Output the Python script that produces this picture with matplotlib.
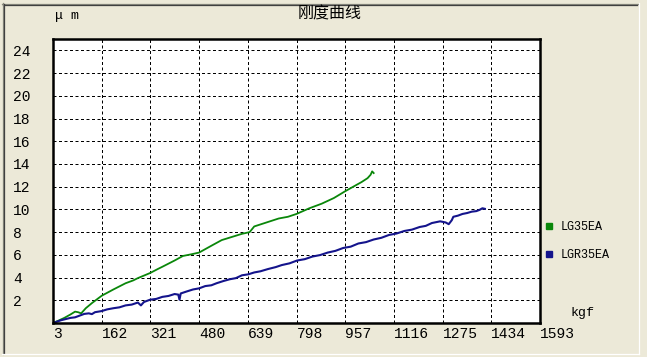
import matplotlib
matplotlib.use("Agg")
import matplotlib.pyplot as plt
from matplotlib.lines import Line2D
import matplotlib.transforms as mtransforms

# ---- data ----
title = "刚度曲线"
y_unit = "μ m"
x_unit = "kgf"
x_ticks = [3, 162, 321, 480, 639, 798, 957, 1116, 1275, 1434, 1593]
y_ticks = [2, 4, 6, 8, 10, 12, 14, 16, 18, 20, 22, 24]

series_names = ["LG35EA", "LGR35EA"]

lg_x = [3, 20, 40, 60, 75, 85, 95, 110, 130, 162, 200, 240, 265, 280, 320, 345,
        360, 400, 427, 455, 480, 520, 554, 590, 620, 645, 660, 700, 740, 770,
        798, 840, 880, 920, 957, 990, 1010, 1030, 1040, 1045, 1050]
lg_y = [0.0, 0.2, 0.45, 0.75, 1.0, 0.95, 0.85, 1.3, 1.75, 2.4, 2.95, 3.5, 3.75,
        3.95, 4.4, 4.75, 4.95, 5.5, 5.9, 6.05, 6.2, 6.8, 7.3, 7.6, 7.85, 8.0,
        8.5, 8.85, 9.2, 9.35, 9.6, 10.1, 10.5, 11.0, 11.6, 12.1, 12.4, 12.75,
        13.05, 13.35, 13.2]

lgr_x = [3, 30, 60, 75, 90, 105, 120, 130, 140, 162, 180, 200, 220, 240, 260,
         280, 290, 300, 320, 340, 360, 380, 400, 412, 416, 420, 440, 460, 480,
         500, 520, 537, 560, 580, 600, 620, 640, 660, 680, 705, 730, 750, 775,
         800, 825, 850, 875, 900, 925, 950, 975, 1000, 1025, 1050, 1075, 1100,
         1125, 1150, 1175, 1200, 1220, 1240, 1267, 1285, 1295, 1305, 1310, 1325,
         1340, 1355, 1370, 1385, 1395, 1405, 1413]
lgr_y = [0.0, 0.25, 0.45, 0.5, 0.65, 0.8, 0.85, 0.78, 0.95, 1.05, 1.2, 1.3,
         1.38, 1.55, 1.62, 1.8, 1.55, 1.85, 2.05, 2.12, 2.3, 2.38, 2.55, 2.5,
         2.05, 2.6, 2.78, 2.95, 3.05, 3.25, 3.32, 3.5, 3.7, 3.85, 3.95, 4.2,
         4.28, 4.45, 4.55, 4.75, 4.92, 5.1, 5.25, 5.5, 5.62, 5.85, 5.98, 6.2,
         6.35, 6.6, 6.72, 7.0, 7.12, 7.35, 7.5, 7.75, 7.88, 8.1, 8.22, 8.45,
         8.55, 8.8, 8.95, 8.85, 8.7, 9.05, 9.35, 9.45, 9.6, 9.68, 9.8, 9.85,
         9.95, 10.1, 10.05]

colors = ["#0a870a", "#14148c"]

# ---- figure ----
W, H = 647, 357
DPI = 100
BG = "#ECE9D8"
fig = plt.figure(figsize=(W / DPI, H / DPI), dpi=DPI, facecolor=BG)

def fx(px):
    return px / W

def fy(py):
    return 1 - py / H

# axes placement (pixels)
L, R, T, B = 53, 540, 39, 323
ax = fig.add_axes([fx(L), fy(B), (R - L) / W, (B - T) / H])
ax.set_facecolor("white")

ax.plot(lg_x, lg_y, color=colors[0], lw=1.3, solid_joinstyle="round")
ax.plot(lgr_x, lgr_y, color=colors[1], lw=1.5, solid_joinstyle="round")

ax.set_xlim(3, 1593)
ax.set_ylim(0, 25)
ax.set_xticks(x_ticks)
ax.set_yticks(y_ticks)
ax.set_xticklabels([str(v) for v in x_ticks])
ax.set_yticklabels([str(v) for v in y_ticks])

mono = "Liberation Mono"
ax.tick_params(axis="both", length=0, labelsize=10.5, colors="black")
for lab in ax.get_xticklabels():
    lab.set_fontfamily(mono)
    lab.set_horizontalalignment("left")
    lab.set_transform(lab.get_transform() +
                      mtransforms.ScaledTranslation(-7.5 / DPI, 0, fig.dpi_scale_trans))
ax.tick_params(axis="x", pad=3)
for lab in ax.get_yticklabels():
    lab.set_fontfamily(mono)
    lab.set_horizontalalignment("left")
ax.tick_params(axis="y", pad=(L - 13) * 72 / DPI)

for s in ax.spines.values():
    s.set_linewidth(1.8)
    s.set_color("black")

# grid (dashed) at interior ticks
for xv in x_ticks[1:-1]:
    ax.axvline(xv, color="black", lw=0.72, linestyle=(0, (3, 2.5)), zorder=0.5)
for yv in y_ticks:
    ax.axhline(yv, color="black", lw=0.72, linestyle=(0, (3, 2.5)), zorder=0.5)

# texts
fig.text(fx(330), fy(14), title, ha="center", va="center", fontsize=11.5,
         family=["Noto Sans CJK SC", "DejaVu Sans"])
fig.text(fx(55), fy(16), y_unit, ha="left", va="center", fontsize=9.5,
         family=[mono, "DejaVu Sans"])
fig.text(fx(570), fy(313), x_unit, ha="left", va="center", fontsize=9.5, family=mono)

# legend
handles = [Line2D([], [], linestyle="none", marker="s", markersize=4.5,
                  markerfacecolor=c, markeredgecolor=c) for c in colors]
leg = fig.legend(handles, series_names, loc="center left",
                 bbox_to_anchor=(fx(544), fy(241)), frameon=False,
                 prop={"family": mono, "size": 8.5}, handlelength=0.8,
                 handletextpad=0.6, labelspacing=1.35, borderpad=0,
                 borderaxespad=0)

# 3D frame
def hline(y, x0, x1, c):
    fig.add_artist(Line2D([fx(x0), fx(x1)], [fy(y), fy(y)], color=c, lw=0.9,
                          transform=fig.transFigure))

def vline(x, y0, y1, c):
    fig.add_artist(Line2D([fx(x), fx(x)], [fy(y0), fy(y1)], color=c, lw=0.9,
                          transform=fig.transFigure))

hline(3.5, 2, 638, "#8a8a80")
hline(4.5, 3, 637, "#404040")
vline(2.5, 3, 354, "#8a8a80")
vline(3.5, 4, 353, "#404040")
hline(353.5, 2, 639, "white")
vline(638.5, 3, 354, "white")

fig.savefig("out.png", dpi=DPI, facecolor=BG)
